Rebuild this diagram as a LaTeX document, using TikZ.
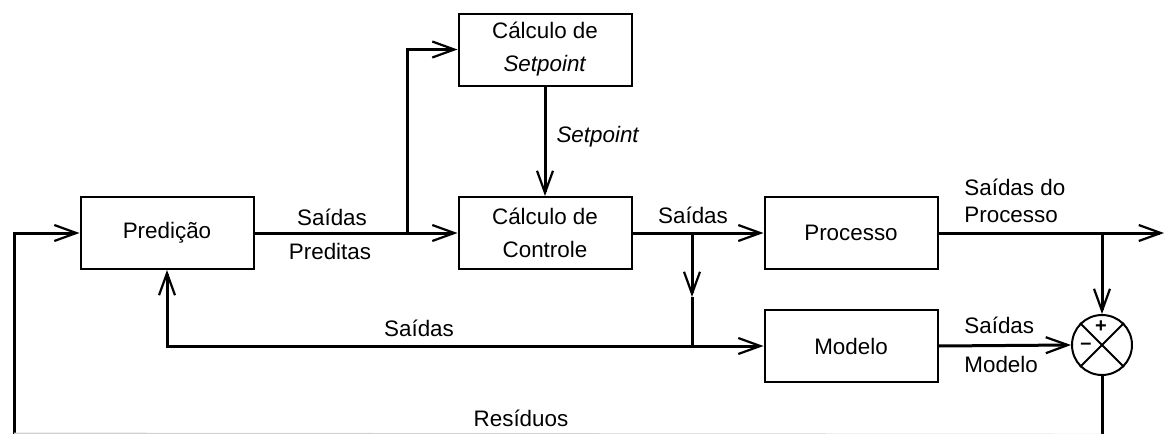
\documentclass[tikz,border=0pt]{standalone}
\usepackage{fontspec}
\setmainfont{Liberation Sans}
\usetikzlibrary{arrows.meta}
\begin{document}
\begin{tikzpicture}[x=0.5pt,y=-0.5pt,
  font=\fontsize{11.2}{16.5}\selectfont,
  blk/.style={draw,line width=1pt,minimum width=86.5pt,minimum height=36pt,inner sep=0pt,align=center},
  wire/.style={line width=1.5pt},
  flow/.style={wire,-{Straight Barb[length=11pt,width=8pt,line width=1.1pt]}},
  lbl/.style={inner sep=0pt}]
\useasboundingbox (0,0) rectangle (1164,434);

% blocks
\node[blk] (pred) at (167,233) {Predição};
\node[blk] (setp) at (545,49.5) {Cálculo de\\\textit{Setpoint}};
\node[blk] (ctrl) at (545,233) {Cálculo de\\Controle};
\node[blk] (proc) at (851,233) {Processo};
\node[blk] (model) at (851,346) {Modelo};
\node[draw,circle,line width=1pt,minimum size=30pt,inner sep=0pt] (sum) at (1102,345) {};
\draw[line width=1pt] (sum.45) -- (sum.225) (sum.135) -- (sum.315);
\node[lbl,font=\fontsize{10}{10}\selectfont\bfseries] at (1101,327) {+};
\node[lbl,font=\fontsize{10}{10}\selectfont\bfseries] at (1086,346) {--};

% junctions and free ends
\coordinate (jpred) at (407,233);
\coordinate (jctrl) at (692,233);
\coordinate (jdown) at (692,297);
\coordinate (jmod) at (692,346);
\coordinate (jback) at (167,346);
\coordinate (jproc) at (1102,233);
\coordinate (out) at (1164,233);
\coordinate (bl) at (14,434);
\coordinate (br) at (1102,434);
\coordinate (lin) at (14,233);

% forward path
\draw[flow] (pred.east) -- (ctrl.west);
\draw[flow] (jpred) |- (setp.west);
\draw[flow] (setp.south) -- (ctrl.north);
\draw[flow] (ctrl.east) -- (proc.west);
\draw[flow] (proc.east) -- (out);
\draw[flow] (jproc) -- (sum.north);
\draw[flow] (model.east) -- (sum.west);

% model branch and feedback to prediction
\draw[flow] (jctrl) -- (jdown);
\draw[wire] (jdown) -- (jmod);
\draw[flow] (jmod) -- (model.west);
\draw[flow] (jmod) -- (jback) -- (pred.south);

% residuals loop
\draw[wire] (sum.south) -- (br);
\draw[flow] (bl) -- (lin) -- (pred.west);
\draw[gray!35,line width=0.8pt] (bl) ++(0,-0.6) -- ([yshift=-0.3pt]br);

% labels
\node[lbl] at (332,217) {Saídas};
\node[lbl] at (330,251) {Preditas};
\node[lbl] at (598,137) {\textit{Setpoint}};
\node[lbl] at (693,215) {Saídas};
\node[lbl,anchor=west] at (964,187) {Saídas do};
\node[lbl,anchor=west] at (964,215) {Processo};
\node[lbl,anchor=west] at (964,325) {Saídas};
\node[lbl,anchor=west] at (964,364) {Modelo};
\node[lbl] at (419,328) {Saídas};
\node[lbl] at (521,418) {Resíduos};
\end{tikzpicture}
\end{document}
